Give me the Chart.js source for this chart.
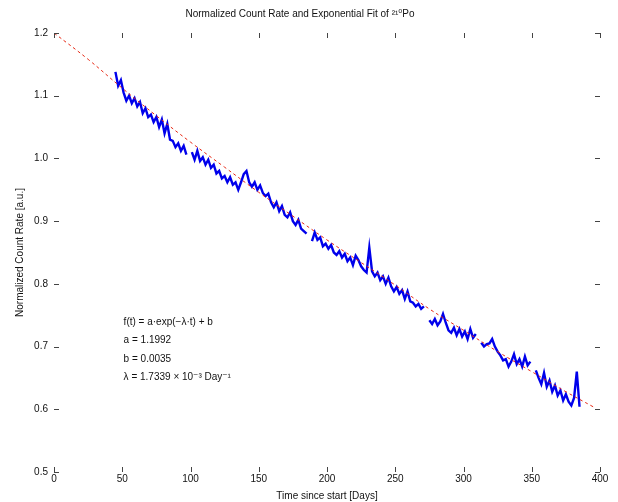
<!DOCTYPE html>
<html>
<head>
<meta charset="utf-8">
<script src="https://cdn.jsdelivr.net/npm/chart.js@4"></script>
<style>
  html, body { margin: 0; padding: 0; background: #fff; }
  #wrap { width: 618px; height: 502px; }
</style>
</head>
<body>
<div id="wrap"><canvas id="decayChart" width="618" height="502"></canvas></div>
<script>
// measurement days (every 2 days)
const days = [
  45, 47, 49, 51, 53, 55, 57, 59, 61, 63, 65, 67, 69, 71, 73, 75, 77, 79, 81, 83,
  85, 87, 89, 91, 93, 95, 97, 99, 101, 103, 105, 107, 109, 111, 113, 115, 117, 119, 121, 123,
  125, 127, 129, 131, 133, 135, 137, 139, 141, 143, 145, 147, 149, 151, 153, 155, 157, 159, 161, 163,
  165, 167, 169, 171, 173, 175, 177, 179, 181, 183, 185, 187, 189, 191, 193, 195, 197, 199, 201, 203,
  205, 207, 209, 211, 213, 215, 217, 219, 221, 223, 225, 227, 229, 231, 233, 235, 237, 239, 241, 243,
  245, 247, 249, 251, 253, 255, 257, 259, 261, 263, 265, 267, 269, 271, 273, 275, 277, 279, 281, 283,
  285, 287, 289, 291, 293, 295, 297, 299, 301, 303, 305, 307, 309, 311, 313, 315, 317, 319, 321, 323,
  325, 327, 329, 331, 333, 335, 337, 339, 341, 343, 345, 347, 349, 351, 353, 355, 357, 359, 361, 363,
  365, 367, 369, 371, 373, 375, 377, 379, 381, 383, 385
];

// normalized count rate (null = no data)
const rates = [
  1.138, 1.116, 1.125, 1.105, 1.092, 1.100, 1.088, 1.096, 1.083, 1.090, 1.072, 1.080, 1.066, 1.070, 1.058, 1.066, 1.050, 1.062, 1.040, 1.055,
  1.030, 1.028, 1.018, 1.024, 1.012, 1.020, 1.006, null, 1.010, 0.998, 1.012, 0.996, 1.002, 0.990, 0.998, 0.985, 0.990, 0.976, 0.980, 0.968,
  0.972, 0.962, 0.970, 0.958, 0.962, 0.950, 0.962, 0.975, 0.980, 0.962, 0.955, 0.962, 0.950, 0.957, 0.945, 0.940, 0.944, 0.930, 0.922, 0.930,
  0.916, 0.924, 0.910, 0.906, 0.914, 0.900, 0.894, 0.902, 0.888, 0.884, 0.880, null, 0.868, 0.882, 0.870, 0.874, 0.860, 0.864, 0.856, 0.862,
  0.850, 0.846, 0.852, 0.842, 0.848, 0.836, 0.842, 0.830, 0.845, 0.838, 0.828, 0.822, 0.818, 0.858, 0.820, 0.812, 0.818, 0.806, 0.812, 0.800,
  0.810, 0.796, 0.788, 0.795, 0.784, 0.790, 0.776, 0.788, 0.772, 0.770, 0.764, 0.768, 0.760, 0.764, null, 0.742, 0.736, 0.744, 0.734, 0.740,
  0.752, 0.738, 0.726, 0.722, 0.730, 0.718, 0.728, 0.716, 0.724, 0.712, 0.728, 0.714, 0.720, null, 0.706, 0.700, 0.704, 0.705, 0.712, 0.700,
  0.692, 0.686, 0.678, 0.680, 0.668, 0.676, 0.688, 0.672, 0.680, 0.668, 0.684, 0.670, 0.676, null, 0.662, 0.650, 0.640, 0.658, 0.636, 0.646,
  0.628, 0.638, 0.622, 0.630, 0.614, 0.624, 0.612, 0.606, 0.618, 0.660, 0.604
];

// exponential fit curve
const fitDays = [0, 25, 50, 75, 100, 125, 150, 175, 200, 225, 250, 275, 300, 325, 350, 375, 395];
const fitRates = [1.200, 1.158, 1.112, 1.068, 1.026, 0.986, 0.946, 0.908, 0.870, 0.834, 0.798, 0.760, 0.726, 0.692, 0.660, 0.628, 0.604];

const fitText = [
  'f(t) = a\u00b7exp(\u2212\u03bb\u00b7t) + b',
  'a = 1.1992',
  'b = 0.0035',
  '\u03bb = 1.7339 \u00d7 10\u207b\u00b3 Day\u207b\u00b9'
];

const fontFamily = '"Liberation Sans", "DejaVu Sans", sans-serif';

// short tick marks drawn inward on all four sides, plus the fit parameters box
const innerTicks = {
  id: 'innerTicks',
  afterDraw(chart) {
    const { ctx, chartArea: a, scales: { x, y } } = chart;
    ctx.save();
    ctx.strokeStyle = '#444';
    ctx.lineWidth = 1;
    ctx.beginPath();
    x.ticks.forEach((t, i) => {
      const px = Math.round(x.getPixelForTick(i)) + 0.5;
      ctx.moveTo(px, a.bottom); ctx.lineTo(px, a.bottom - 5);
      ctx.moveTo(px, a.top); ctx.lineTo(px, a.top + 5);
    });
    y.ticks.forEach((t, i) => {
      const py = Math.round(y.getPixelForTick(i)) + 0.5;
      ctx.moveTo(a.left, py); ctx.lineTo(a.left + 5, py);
      ctx.moveTo(a.right, py); ctx.lineTo(a.right - 5, py);
    });
    ctx.stroke();

    ctx.fillStyle = '#111';
    ctx.font = '10px ' + fontFamily;
    ctx.textBaseline = 'middle';
    const tx = x.getPixelForValue(51);
    const ty = y.getPixelForValue(0.739);
    fitText.forEach((line, i) => ctx.fillText(line, tx, ty + i * 18.5));
    ctx.restore();
  }
};

new Chart(document.getElementById('decayChart'), {
  type: 'line',
  data: {
    datasets: [
      {
        label: 'Fit',
        data: fitDays.map((d, i) => ({ x: d, y: fitRates[i] })),
        borderColor: 'rgb(230, 40, 20)',
        borderWidth: 1,
        borderDash: [3, 3],
        pointRadius: 0,
        tension: 0.4,
        order: 0
      },
      {
        label: 'Data',
        data: days.map((d, i) => ({ x: d, y: rates[i] })),
        borderColor: 'rgb(0, 0, 235)',
        borderWidth: 2.4,
        pointRadius: 0,
        tension: 0,
        spanGaps: false,
        order: 1
      }
    ]
  },
  options: {
    responsive: false,
    animation: false,
    layout: { padding: { left: 0, right: 18, top: 0, bottom: 0 } },
    plugins: {
      legend: { display: false },
      tooltip: { enabled: false },
      title: {
        display: true,
        text: 'Normalized Count Rate and Exponential Fit of \u00b2\u00b9\u2070Po',
        color: '#111',
        font: { family: fontFamily, size: 10, weight: 'normal' },
        padding: { top: 8, bottom: 13 }
      }
    },
    scales: {
      x: {
        type: 'linear',
        min: 0,
        max: 400,
        ticks: { stepSize: 50, color: '#111', padding: 1, font: { family: fontFamily, size: 10 } },
        grid: { display: false, drawTicks: false },
        border: { display: false },
        title: {
          display: true,
          text: 'Time since start [Days]',
          color: '#111',
          font: { family: fontFamily, size: 10 },
          padding: { top: -2, bottom: 0 }
        },
        afterFit: s => { s.height = 30; }
      },
      y: {
        min: 0.5,
        max: 1.2,
        ticks: { stepSize: 0.1, color: '#111', padding: 6, font: { family: fontFamily, size: 10 } },
        grid: { display: false, drawTicks: false },
        border: { display: false },
        title: {
          display: true,
          text: 'Normalized Count Rate [a.u.]',
          color: '#111',
          font: { family: fontFamily, size: 10 },
          padding: { top: 14, bottom: 0 }
        },
        afterFit: s => { s.width = 54; }
      }
    }
  },
  plugins: [innerTicks]
});
</script>
</body>
</html>
